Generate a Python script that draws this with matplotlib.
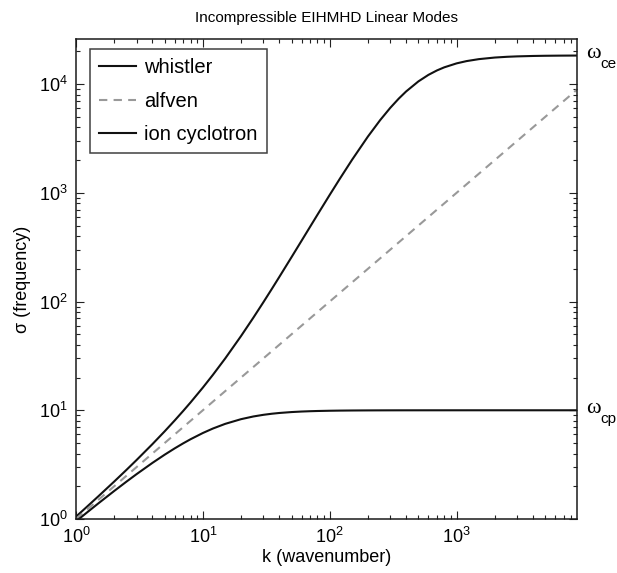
import matplotlib
matplotlib.use("Agg")
import matplotlib.pyplot as plt
from matplotlib.ticker import LogLocator, NullFormatter

plt.rcParams['font.family'] = ['Liberation Sans', 'DejaVu Sans']

# wavenumber samples
k = [1, 1.2, 1.5, 2, 2.5, 3, 4, 5, 6, 7, 8, 10, 12, 15, 20, 25, 30, 35, 40, 50,
     60, 70, 80, 100, 120, 150, 200, 250, 300, 350, 400, 500, 600, 700, 800,
     1000, 1200, 1500, 2000, 2500, 3000, 4000, 5000, 6500, 8900]
whistler = [1.051, 1.274, 1.617, 2.210, 2.832, 3.484, 4.879, 6.403, 8.063, 9.864,
            11.81, 16.17, 21.18, 29.96, 48.18, 71.03, 98.60, 130.9, 168.0, 256.1,
            362.6, 486.8, 628.0, 957.7, 1344, 2013, 3293, 4670, 6046, 7354,
            8555, 10590, 12162, 13358, 14269, 15513, 16285, 16975, 17555, 17836,
            17993, 18152, 18226, 18280, 18317]
alfven = [1, 1.2, 1.5, 2, 2.5, 3, 4, 5, 6, 7, 8, 10, 12, 15, 20, 25, 30, 35, 40, 50,
          60, 70, 80, 100, 120, 150, 200, 250, 300, 350, 400, 500, 600, 700, 800,
          1000, 1200, 1500, 2000, 2500, 3000, 4000, 5000, 6500, 8900]
ion_cyclotron = [0.951, 1.130, 1.392, 1.810, 2.207, 2.584, 3.279, 3.904, 4.464, 4.966,
                 5.416, 6.180, 6.794, 7.5, 8.284, 8.770, 9.083, 9.295, 9.443, 9.629,
                 9.737, 9.804, 9.849, 9.902, 9.932, 9.956, 9.975, 9.984, 9.989, 9.992,
                 9.994, 9.996, 9.997, 9.998, 9.998, 9.999, 9.999, 10.0, 10.0, 10.0,
                 10.0, 10.0, 10.0, 10.0, 10.0]
omega_ce = 18360
omega_cp = 10
xlim = (1, 8900)
ylim = (1, 26000)

fig = plt.figure(figsize=(6.17, 5.73), dpi=100)
ax = fig.add_axes([76/617, 1 - 519/573, (577-76)/617, (519-39)/573])

ax.plot(k, whistler, color='#111111', lw=1.5, label='whistler')
ax.plot(k, alfven, color='#999999', lw=1.5, ls=(0, (4, 3)), label='alfven')
ax.plot(k, ion_cyclotron, color='#111111', lw=1.5, label='ion cyclotron')

ax.set_xscale('log')
ax.set_yscale('log')
ax.set_xlim(*xlim)
ax.set_ylim(*ylim)

for a in (ax.xaxis, ax.yaxis):
    a.set_major_locator(LogLocator(base=10, numticks=10))
    a.set_minor_locator(LogLocator(base=10, subs=range(2, 10), numticks=50))
    a.set_minor_formatter(NullFormatter())
ax.tick_params(which='both', direction='in', top=True, right=True,
               labelsize=13, color='#222222')
ax.tick_params(which='major', length=6, width=0.8, pad=6)
ax.tick_params(which='minor', length=3, width=0.8)
for s in ax.spines.values():
    s.set_linewidth(1.1)
    s.set_color('#1a1a1a')

ax.set_xlabel('k (wavenumber)', fontsize=13, labelpad=1)
ax.set_ylabel('σ (frequency)', fontsize=13, labelpad=6)
ax.set_title('Incompressible EIHMHD Linear Modes', fontsize=11, pad=12)

leg = ax.legend(loc='upper left', bbox_to_anchor=(14/501, 1 - 10/480),
                borderaxespad=0, fontsize=14.5, frameon=True, fancybox=False,
                edgecolor='#111111', handlelength=1.85, handletextpad=0.4,
                borderpad=0.45, labelspacing=0.72)
leg.get_frame().set_linewidth(1.1)

trans = ax.get_yaxis_transform()
for val, sub in ((omega_ce, 'ce'), (omega_cp, 'cp')):
    ax.annotate('ω', xy=(1, val), xycoords=trans, xytext=(6.8, 1.5),
                textcoords='offset points', fontsize=16, family='Liberation Serif',
                va='center', ha='left', annotation_clip=False)
    ax.annotate(sub, xy=(1, val), xycoords=trans, xytext=(16.5, -6.5),
                textcoords='offset points', fontsize=11, va='center', ha='left',
                annotation_clip=False)

fig.savefig('out.png', dpi=100)
